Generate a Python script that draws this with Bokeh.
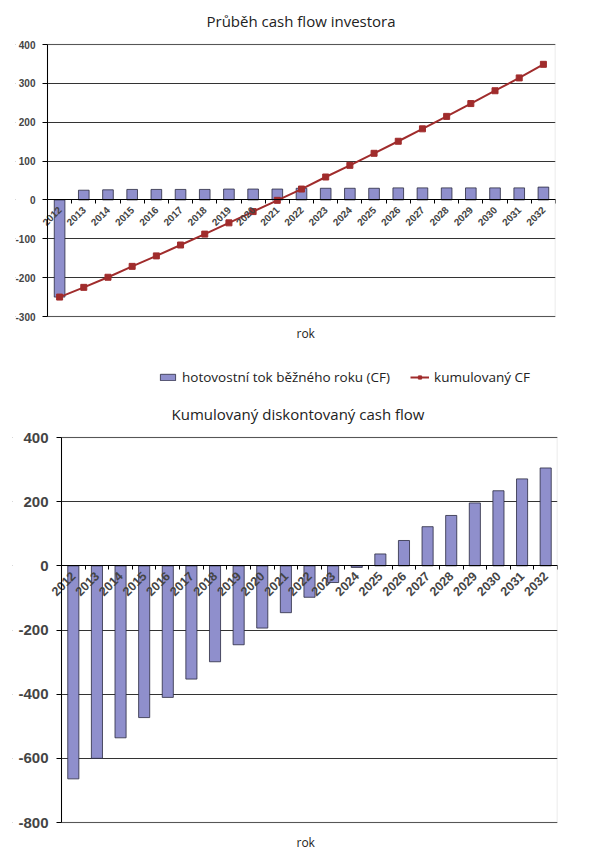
import math
from bokeh.plotting import figure
from bokeh.models import Range1d, FixedTicker, Title, Legend, LegendItem, BoxAnnotation
from bokeh.layouts import column
from bokeh.embed import file_html
from bokeh.resources import INLINE

years = list(range(2012, 2033))
year_labels = [str(y) for y in years]
cf = [-250, 25, 26, 27, 27, 27, 27, 28, 28, 28, 30, 30, 30, 30, 31, 31, 31, 31, 31, 31, 33]
cum_cf = [-250, -225, -199, -171, -144, -116, -88, -59, -30, -1, 28, 59, 89, 120,
          151, 183, 215, 248, 281, 314, 349]
disc_cum = [-664, -600, -536, -473, -410, -353, -299, -246, -194, -146, -98, -52, -5,
            37, 79, 122, 157, 196, 234, 271, 305]

top_ticks = [-300, -200, -100, 0, 100, 200, 300, 400]
bot_ticks = [-800, -600, -400, -200, 0, 200, 400]

BAR_FILL = "#8f8fcc"
BAR_LINE = "#2a2a40"
LINE_COL = "#a02c2c"
AX_FONT = "Liberation Sans"
TXT_FONT = "Open Sans"

overrides = {y: s for y, s in zip(years, year_labels)}
minor = [y - 0.5 for y in years] + [years[-1] + 0.5]
X0 = years[0] - 0.5
X1 = years[-1] + 0.5


def make_fig(ticks, data_w, data_h, left_extra, pad, min_left, min_right, top, bottom, title):
    y0, y1 = ticks[0], ticks[-1]
    ux = (X1 - X0) / data_w          # data units per pixel (x)
    uy = (y1 - y0) / data_h          # data units per pixel (y)
    p = figure(frame_width=data_w + left_extra, frame_height=data_h + 2 * pad,
               x_range=Range1d(X0 - left_extra * ux, X1),
               y_range=Range1d(y0 - pad * uy, y1 + pad * uy),
               output_backend="svg", toolbar_location=None, title=title,
               min_border_left=min_left, min_border_right=min_right,
               min_border_top=top, min_border_bottom=bottom)
    p.outline_line_color = None
    p.background_fill_color = "white"
    p.border_fill_color = "white"
    return p


def style(p, ticks, ysize, xsize, ystand):
    p.xaxis.ticker = FixedTicker(ticks=years, minor_ticks=minor)
    p.xaxis.major_label_overrides = overrides
    p.xaxis.fixed_location = 0
    p.xaxis.bounds = (X0, X1)
    p.xaxis.major_label_orientation = math.pi / 4
    p.xaxis.major_tick_line_color = None
    p.xaxis.minor_tick_out = 4
    p.xaxis.minor_tick_in = 0
    p.xaxis.minor_tick_line_color = "black"
    p.xaxis.axis_line_color = "black"
    p.xaxis.major_label_text_font = AX_FONT
    p.xaxis.major_label_text_font_style = "bold"
    p.xaxis.major_label_text_font_size = xsize
    p.xaxis.major_label_standoff = 2
    p.yaxis.ticker = FixedTicker(ticks=ticks)
    p.yaxis.fixed_location = X0
    p.yaxis.bounds = (ticks[0], ticks[-1])
    p.yaxis.major_label_overrides = {t: str(t) for t in ticks}
    p.yaxis.minor_tick_line_color = None
    p.yaxis.major_tick_out = 5
    p.yaxis.major_tick_in = 0
    p.yaxis.axis_line_color = "black"
    p.yaxis.major_label_text_font = AX_FONT
    p.yaxis.major_label_text_font_style = "bold"
    p.yaxis.major_label_text_font_size = ysize
    p.yaxis.major_label_standoff = ystand
    p.xgrid.grid_line_color = None
    p.ygrid.ticker = FixedTicker(ticks=ticks)
    p.ygrid.grid_line_color = "#333333"
    p.ygrid.grid_line_width = 1
    # hide grid lines left of the value axis
    p.add_layout(BoxAnnotation(right=X0, fill_color="white", fill_alpha=1,
                               line_color=None, level="underlay"))
    # plot-area border
    p.add_layout(BoxAnnotation(left=X0, right=X1, bottom=ticks[0], top=ticks[-1],
                               fill_alpha=0, line_color="#a8a8a8", line_width=1.5,
                               level="underlay"))
    p.title.align = "left"
    p.title.text_font = TXT_FONT
    p.title.text_font_style = "normal"
    p.title.text_color = "#222222"


# ---- top chart ----
p1 = make_fig(top_ticks, 508, 272, 32, 6, 15, 29, 38, 24, "Průběh cash flow investora")
style(p1, top_ticks, "10px", "10px", 7)
p1.title.text_font_size = "15px"
p1.title.standoff = 16
p1.title.offset = 191
p1.vbar(x=years, top=cf, bottom=0, width=0.44,
        fill_color=BAR_FILL, line_color=BAR_LINE, line_width=0.8)
p1.line(x=years, y=cum_cf, line_color=LINE_COL, line_width=2)
p1.scatter(x=years, y=cum_cf, marker="square", size=6,
           fill_color=LINE_COL, line_color=LINE_COL)
p1.add_layout(Title(text="rok", align="left", offset=281, text_font=TXT_FONT,
                    text_font_size="12px", text_font_style="normal",
                    text_color="#222222", standoff=0), "below")

# ---- legend strip (renderers hidden, used only for legend swatches) ----
pl = figure(width=584, height=50, x_range=Range1d(0, 1), y_range=Range1d(0, 1),
            output_backend="svg", toolbar_location=None,
            min_border=0, outline_line_color=None)
pl.axis.visible = False
pl.grid.visible = False
lb = pl.vbar(x=years, top=cf, width=0.5, fill_color=BAR_FILL, line_color=BAR_LINE,
             line_width=0.8, visible=False)
ll = pl.line(x=years, y=cum_cf, line_color=LINE_COL, line_width=2, visible=False)
lp = pl.scatter(x=years, y=cum_cf, marker="square", size=6, fill_color=LINE_COL,
                line_color=LINE_COL, visible=False)
legend = Legend(items=[LegendItem(label="hotovostní tok běžného roku (CF)", renderers=[lb]),
                       LegendItem(label="kumulovaný CF", renderers=[ll, lp])],
                orientation="horizontal", location=(158, 10),
                border_line_color=None, background_fill_alpha=0,
                label_text_font=TXT_FONT, label_text_font_size="13.5px",
                label_text_color="#222222", label_standoff=5,
                glyph_width=19, glyph_height=8, spacing=20, padding=2, margin=0,
                inactive_fill_alpha=0)
pl.add_layout(legend)

# ---- bottom chart ----
p2 = make_fig(bot_ticks, 496, 385, 49, 9, 12, 27, 32, 24, "Kumulovaný diskontovaný cash flow")
style(p2, bot_ticks, "15px", "12.5px", 8)
p2.title.text_font_size = "15px"
p2.title.standoff = 10
p2.title.offset = 159
p2.vbar(x=years, top=disc_cum, bottom=0, width=0.47,
        fill_color=BAR_FILL, line_color=BAR_LINE, line_width=0.8)
p2.add_layout(Title(text="rok", align="left", offset=284, text_font=TXT_FONT,
                    text_font_size="12px", text_font_style="normal",
                    text_color="#222222", standoff=0), "below")

layout = column(column(p1), column(pl), column(p2))
open("out.html", "w").write(file_html(layout, INLINE))
